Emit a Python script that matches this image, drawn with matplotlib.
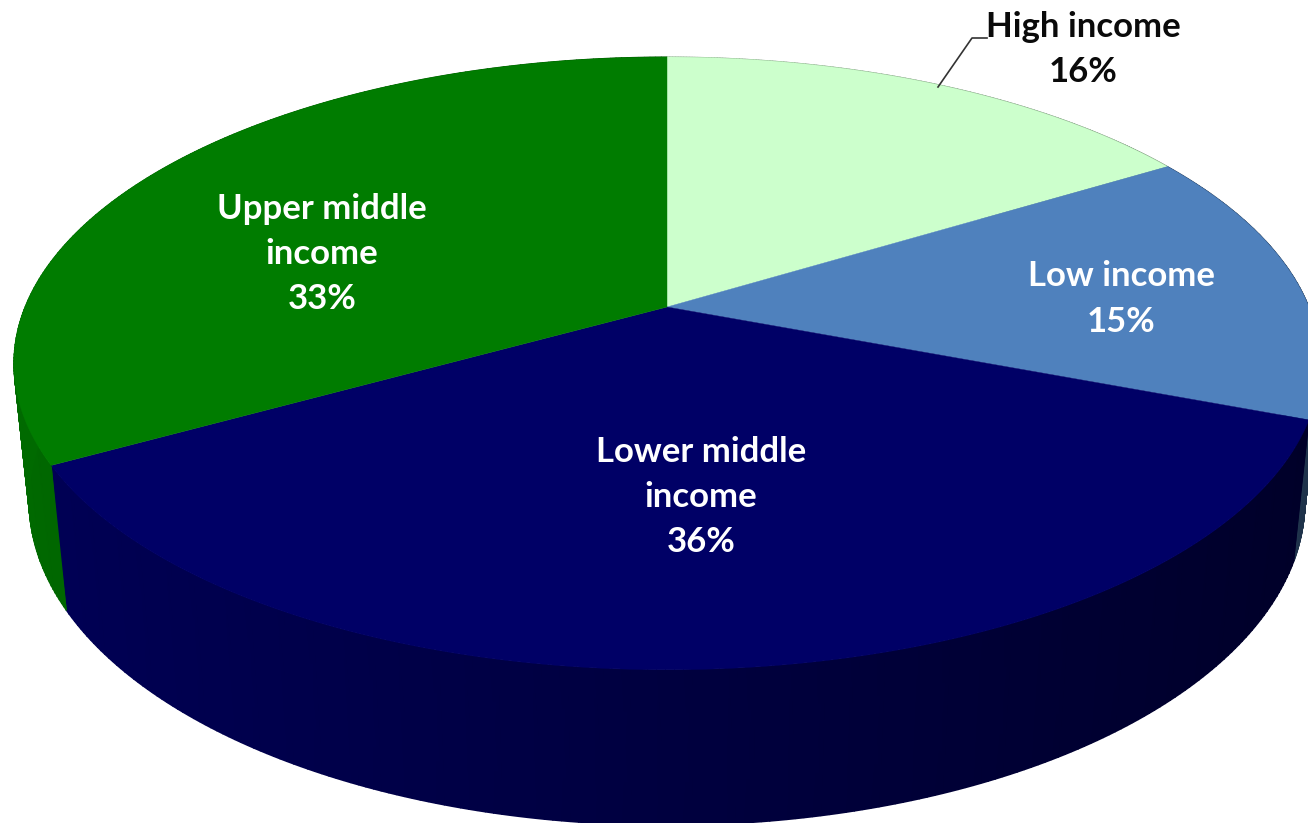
import numpy as np
import matplotlib
matplotlib.use('Agg')
import matplotlib.pyplot as plt
from matplotlib.colors import LinearSegmentedColormap

categorias = ['High income', 'Low income', 'Lower middle\nincome', 'Upper middle\nincome']
etiquetas = ['16%', '15%', '36%', '33%']
valores = [16.3, 14.5, 36.1, 33.1]
colores = ['#CCFFCC', '#4F81BD', '#000066', '#007C00']
colores_texto = ['#0A0A0A', 'white', 'white', 'white']
pos_texto = [(1083, 49), (1121, 299), (701, 497), (322, 254)]

# perspectiva del pastel
cx, cy = 667, 307
A, B, D = 642, 296, 139
k, m = 0.184, 0.023


def proyectar(t, z=0):
    X = np.sin(t)
    Y = np.cos(t)
    w = 1 + k * Y + m * z
    return cx + A * X / w, cy - (B * Y - D * z) / w


fig = plt.figure(figsize=(13.08, 8.23), dpi=100)
ax = fig.add_axes([0, 0, 1, 1])
ax.set_xlim(0, 1308)
ax.set_ylim(823, 0)
ax.axis('off')

bordes = np.concatenate([[0], np.cumsum(valores)]) / np.sum(valores) * 2 * np.pi

# pared lateral con degradado
for i in range(len(valores)):
    tt = np.linspace(bordes[i], bordes[i + 1], 200)
    x0, y0 = proyectar(tt, 0)
    x1, y1 = proyectar(tt, 1)
    brillo = 0.62 - 0.235 * np.sin(tt)
    cmap = LinearSegmentedColormap.from_list('c%d' % i, ['black', colores[i]])
    ax.pcolormesh(np.array([x0, x1]), np.array([y0, y1]), np.array([brillo, brillo]),
                  shading='gouraud', cmap=cmap, vmin=0, vmax=1)

# cara de arriba
for i in range(len(valores)):
    tt = np.linspace(bordes[i], bordes[i + 1], 200)
    x, y = proyectar(tt, 0)
    ax.fill(np.r_[cx, x], np.r_[cy, y], color=colores[i], lw=0.3)

# linea guia
ax.plot([938, 972, 987], [87, 38, 38], color='#333333', lw=1.2)

for i in range(len(valores)):
    ax.text(pos_texto[i][0], pos_texto[i][1], categorias[i] + '\n' + etiquetas[i],
            color=colores_texto[i], ha='center', va='center', family='Lato',
            fontweight='bold', fontsize=25, linespacing=1.5)

fig.savefig('out.png', dpi=100)
